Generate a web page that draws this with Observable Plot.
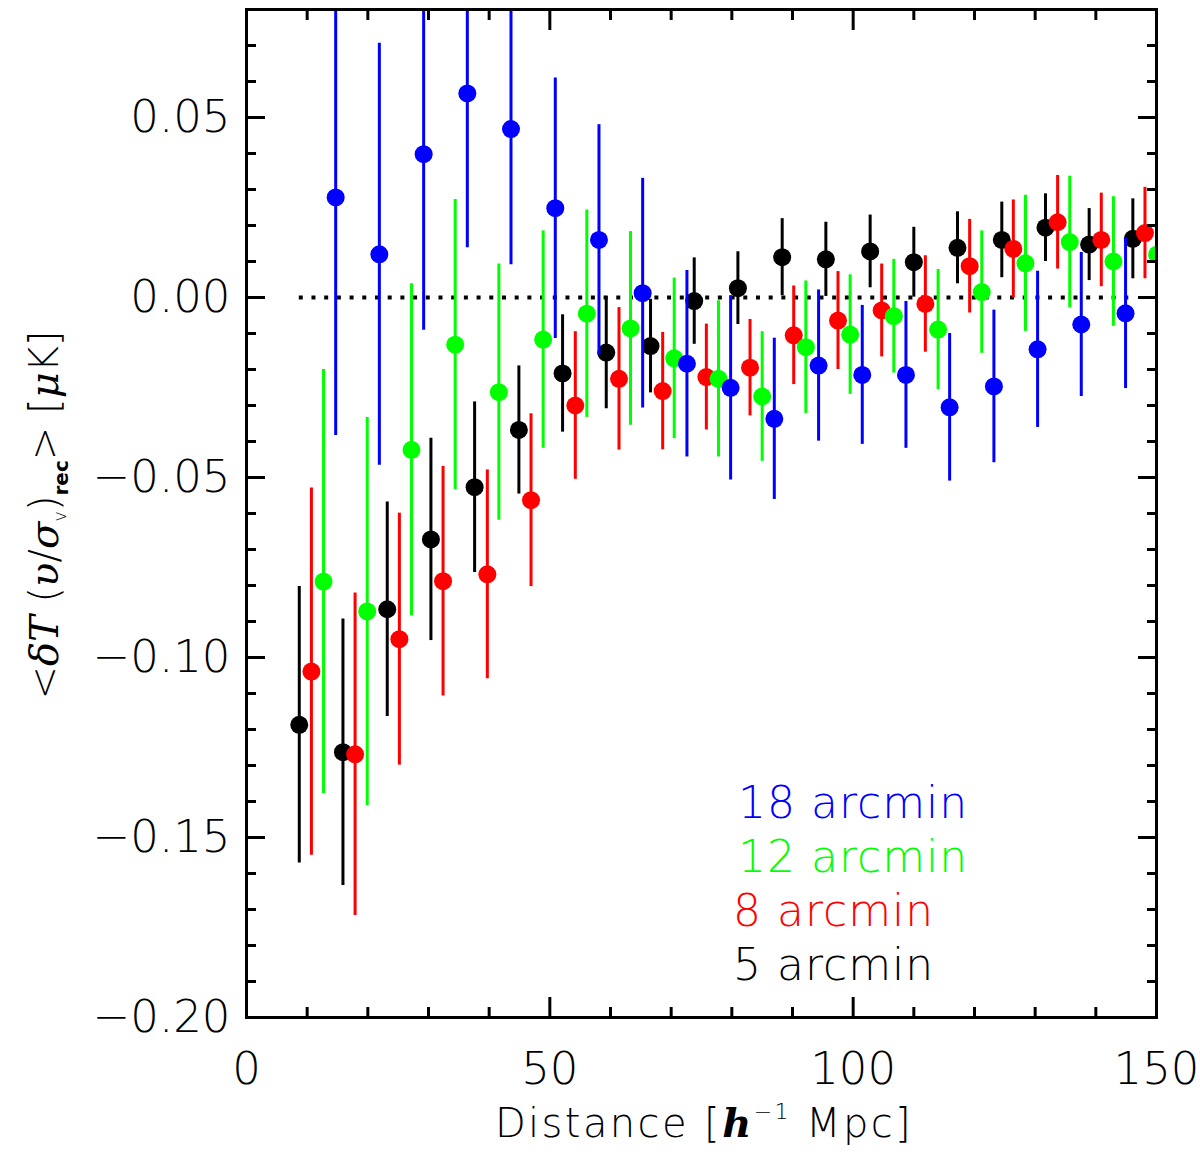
<!DOCTYPE html>
<html>
<head>
<meta charset="utf-8">
<script src="https://cdn.jsdelivr.net/npm/d3@7"></script>
<script src="https://cdn.jsdelivr.net/npm/@observablehq/plot@0.6"></script>
<style>
  html, body { margin: 0; padding: 0; background: #fff; }
  #chart svg { display: block; }
</style>
</head>
<body>
<div id="chart"></div>
<script>
// ---- data ----
const blackX = [8.7, 15.9, 23.2, 30.4, 37.6, 44.9, 52.1, 59.3, 66.6, 73.8, 81.0, 88.3, 95.5, 102.8, 110.0, 117.2, 124.5, 131.7, 138.9, 146.1];
const blackY = [-0.1187, -0.1263, -0.0866, -0.0672, -0.0527, -0.0368, -0.0211, -0.0153, -0.0135, -0.0010, 0.0026, 0.0112, 0.0106, 0.0128, 0.0098, 0.0138, 0.0160, 0.0194, 0.0147, 0.0163];
const blackErr = [0.0384, 0.0370, 0.0298, 0.0281, 0.0237, 0.0178, 0.0163, 0.0156, 0.0130, 0.0120, 0.0101, 0.0107, 0.0103, 0.0101, 0.0097, 0.0100, 0.0105, 0.0094, 0.0100, 0.0111];

const redX = [10.7, 17.9, 25.2, 32.4, 39.7, 46.9, 54.2, 61.4, 68.6, 75.8, 83.0, 90.2, 97.5, 104.7, 111.9, 119.2, 126.4, 133.7, 140.9, 148.1];
const redY = [-0.1039, -0.1269, -0.0949, -0.0788, -0.0769, -0.0563, -0.0300, -0.0226, -0.0260, -0.0221, -0.0195, -0.0105, -0.0064, -0.0036, -0.0018, 0.0087, 0.0135, 0.0209, 0.0160, 0.0179];
const redErr = [0.0510, 0.0448, 0.0350, 0.0319, 0.0290, 0.0240, 0.0205, 0.0198, 0.0163, 0.0147, 0.0134, 0.0137, 0.0136, 0.0129, 0.0134, 0.0130, 0.0136, 0.0130, 0.0130, 0.0127];

const greenX = [12.7, 19.9, 27.2, 34.4, 41.6, 48.9, 56.1, 63.3, 70.5, 77.8, 85.0, 92.2, 99.5, 106.7, 114.0, 121.2, 128.4, 135.7, 142.9, 150.1];
const greenY = [-0.0789, -0.0872, -0.0423, -0.0131, -0.0263, -0.0117, -0.0045, -0.0086, -0.0169, -0.0226, -0.0275, -0.0138, -0.0103, -0.0052, -0.0089, 0.0015, 0.0095, 0.0154, 0.0100, 0.0119];
const greenErr = [0.0589, 0.0539, 0.0461, 0.0403, 0.0356, 0.0302, 0.0288, 0.0269, 0.0223, 0.0217, 0.0180, 0.0184, 0.0166, 0.0158, 0.0167, 0.0170, 0.0189, 0.0183, 0.0180, 0.0180];

const blueX = [14.7, 21.9, 29.2, 36.4, 43.6, 50.9, 58.1, 65.3, 72.6, 79.8, 87.0, 94.3, 101.5, 108.7, 115.9, 123.2, 130.4, 137.6, 144.9];
const blueY = [0.0278, 0.0120, 0.0398, 0.0567, 0.0468, 0.0248, 0.0160, 0.0012, -0.0184, -0.0251, -0.0337, -0.0189, -0.0215, -0.0215, -0.0305, -0.0247, -0.0144, -0.0075, -0.0044];
const blueErr = [0.0661, 0.0586, 0.0489, 0.0429, 0.0377, 0.0362, 0.0320, 0.0319, 0.0259, 0.0256, 0.0224, 0.0210, 0.0193, 0.0204, 0.0205, 0.0212, 0.0217, 0.0200, 0.0209];

const seriesNames = ["5 arcmin", "8 arcmin", "12 arcmin", "18 arcmin"];
const seriesColors = ["#000000", "#ff0000", "#00ff00", "#0000ff"];

const xMajorTicks = [0, 50, 100, 150];
const xMinorTicks = [10, 20, 30, 40, 60, 70, 80, 90, 110, 120, 130, 140];
const yMajorTicks = [-0.20, -0.15, -0.10, -0.05, 0.00, 0.05];
const yMinorTicks = [-0.19, -0.18, -0.17, -0.16, -0.14, -0.13, -0.12, -0.11, -0.09, -0.08, -0.07, -0.06, -0.04, -0.03, -0.02, -0.01, 0.01, 0.02, 0.03, 0.04, 0.06, 0.07];

const legendOrder = ["18 arcmin", "12 arcmin", "8 arcmin", "5 arcmin"];

// ---- build tables ----
const raw = [[blackX, blackY, blackErr], [redX, redY, redErr], [greenX, greenY, greenErr], [blueX, blueY, blueErr]];
const tables = raw.map(([xs, ys, es], k) => xs.map((x, i) => ({x, y: ys[i], lo: ys[i] - es[i], hi: ys[i] + es[i], s: seriesNames[k]})));

const font = "'DejaVu Sans', sans-serif";
const tickFont = 45;

const seriesMarks = tables.flatMap((t, k) => [
  Plot.ruleX(t, {x: "x", y1: "lo", y2: "hi", stroke: seriesColors[k], strokeWidth: 3, clip: true}),
  Plot.dot(t, {x: "x", y: "y", r: 9, fill: seriesColors[k], stroke: "none", clip: true})
]);

const axisCommon = {label: null};
const chart = Plot.plot({
  width: 1200,
  height: 1160,
  marginLeft: 246,
  marginRight: 44,
  marginTop: 9,
  marginBottom: 143,
  style: {fontFamily: font, background: "#fff", color: "#000", overflow: "visible"},
  x: {domain: [0, 150], label: null},
  y: {domain: [-0.2, 0.08], label: null},
  marks: [
    Plot.ruleY([0], {x1: d3.min(blackX), x2: d3.max(blackX), stroke: "#000", strokeWidth: 4, strokeDasharray: "4,8.7"}),
    ...seriesMarks,
    // major and minor ticks (inward)
    Plot.axisX({...axisCommon, anchor: "bottom", ticks: xMajorTicks, tickSize: -20, fill: "none", strokeWidth: 3}),
    Plot.axisX({...axisCommon, anchor: "top", ticks: xMajorTicks, tickSize: -20, fill: "none", strokeWidth: 3}),
    Plot.axisX({...axisCommon, anchor: "bottom", ticks: xMinorTicks, tickSize: -10, fill: "none", strokeWidth: 3}),
    Plot.axisX({...axisCommon, anchor: "top", ticks: xMinorTicks, tickSize: -10, fill: "none", strokeWidth: 3}),
    Plot.axisY({...axisCommon, anchor: "left", ticks: yMajorTicks, tickSize: -19, fill: "none", strokeWidth: 3}),
    Plot.axisY({...axisCommon, anchor: "right", ticks: yMajorTicks, tickSize: -19, fill: "none", strokeWidth: 3}),
    Plot.axisY({...axisCommon, anchor: "left", ticks: yMinorTicks, tickSize: -10, fill: "none", strokeWidth: 3}),
    Plot.axisY({...axisCommon, anchor: "right", ticks: yMinorTicks, tickSize: -10, fill: "none", strokeWidth: 3}),
    // tick labels
    Plot.axisX({...axisCommon, anchor: "bottom", ticks: xMajorTicks, tickSize: 0, tickPadding: 35, fontSize: tickFont, tickFormat: d3.format("d"), fontWeight: 200, letterSpacing: 2}),
    Plot.axisY({...axisCommon, anchor: "left", ticks: yMajorTicks, tickSize: 0, tickPadding: 16, fontSize: tickFont, tickFormat: d3.format(".2f"), fontWeight: 200, letterSpacing: 2}),
    Plot.frame({stroke: "#000", strokeWidth: 3})
  ]
});

document.getElementById("chart").appendChild(chart);

const svg = d3.select(chart);

// x-axis title
const xt = svg.append("text")
  .attr("x", 704).attr("y", 1137)
  .attr("text-anchor", "middle")
  .attr("letter-spacing", 2.4)
  .attr("font-family", font).attr("font-size", 40).attr("font-weight", 200).attr("fill", "#000");
xt.append("tspan").text("Distance [");
xt.append("tspan").attr("font-family", "'DejaVu Serif', serif").attr("font-style", "italic").attr("font-weight", "bold").text("h");
xt.append("tspan").attr("font-size", 22).attr("dy", -18).text("−1");
xt.append("tspan").attr("dy", 18).text(" Mpc]");

// y-axis title
const yt = svg.append("text")
  .attr("transform", "translate(58,515) rotate(-90)")
  .attr("text-anchor", "middle")
  .attr("font-family", font).attr("font-size", 40).attr("font-weight", 200).attr("fill", "#000");
yt.append("tspan").text("<");
yt.append("tspan").attr("font-family", "'DejaVu Serif', serif").attr("font-style", "italic").text("δT");
yt.append("tspan").text(" (");
yt.append("tspan").attr("font-family", "'DejaVu Serif', serif").attr("font-style", "italic").text("υ");
yt.append("tspan").text("/");
yt.append("tspan").attr("font-family", "'DejaVu Serif', serif").attr("font-style", "italic").text("σ");
yt.append("tspan").attr("font-size", 18).attr("dy", 8).text("v");
yt.append("tspan").attr("dy", -8).text(")");
yt.append("tspan").attr("font-size", 20).attr("font-weight", "bold").attr("dy", 10).text("rec");
yt.append("tspan").attr("dy", -10).text(">");
yt.append("tspan").text(" [");
yt.append("tspan").attr("font-family", "'DejaVu Serif', serif").attr("font-style", "italic").text("μ");
yt.append("tspan").text("K]");

// legend
const legendX = [738, 738, 733, 733];
const legendY = [818, 872, 926, 980];
legendOrder.forEach((name, i) => {
  const k = seriesNames.indexOf(name);
  svg.append("text")
    .attr("x", legendX[i]).attr("y", legendY[i])
    .attr("text-anchor", "start")
    .attr("letter-spacing", 1)
    .attr("font-family", font).attr("font-size", 44).attr("font-weight", 200)
    .attr("fill", seriesColors[k])
    .text(name);
});
</script>
</body>
</html>
